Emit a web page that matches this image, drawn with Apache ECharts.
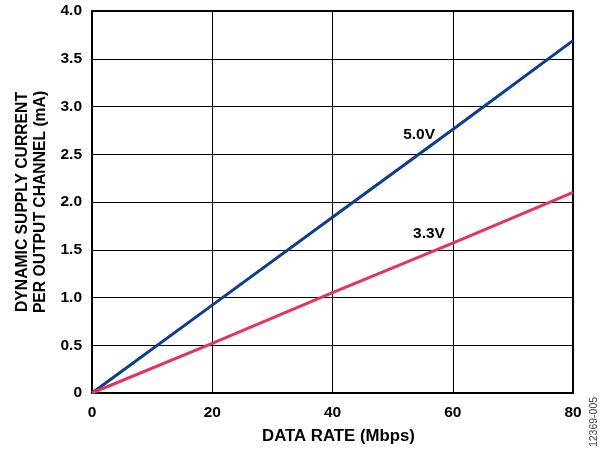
<!DOCTYPE html>
<html><head><meta charset="utf-8">
<script src="https://cdn.jsdelivr.net/npm/echarts@6/dist/echarts.min.js"></script>
<style>html,body{margin:0;padding:0;background:#fff}#c{width:605px;height:454px}</style>
</head><body><div id="c"></div>
<script>
const dataRate = [0, 20, 40, 60, 80];
const v50 = [0, 0.92, 1.84, 2.76, 3.69];
const v33 = [0, 0.52, 1.05, 1.57, 2.10];
const xTicks = [0, 20, 40, 60, 80];
const yTicks = ['0', '0.5', '1.0', '1.5', '2.0', '2.5', '3.0', '3.5', '4.0'];
const seriesNames = ['5.0V', '3.3V'];

const chart = echarts.init(document.getElementById('c'));
const F = 'Liberation Sans, Arial, sans-serif';
chart.setOption({
  animation: false,
  grid: {left: 92, right: 32, top: 11, bottom: 61},
  xAxis: {
    type: 'value', min: 0, max: 80, interval: 20,
    name: 'DATA RATE (Mbps)', nameLocation: 'middle', nameGap: 35,
    nameTextStyle: {fontFamily: F, fontWeight: 'bold', fontSize: 16.8, color: '#000', padding: [0, 0, 0, 12]},
    axisLine: {show: true, lineStyle: {color: '#000', width: 2}},
    axisTick: {show: false},
    axisLabel: {fontFamily: F, fontWeight: 'bold', fontSize: 15.5, color: '#000', margin: 12,
      formatter: v => String(xTicks[xTicks.indexOf(v)] ?? v)},
    splitLine: {show: true, lineStyle: {color: '#000', width: 1}}
  },
  yAxis: {
    type: 'value', min: 0, max: 4, interval: 0.5,
    name: 'DYNAMIC SUPPLY CURRENT\nPER OUTPUT CHANNEL (mA)', nameLocation: 'middle', nameGap: 37,
    nameTextStyle: {fontFamily: F, fontWeight: 'bold', fontSize: 15.7, color: '#000', lineHeight: 18},
    axisLine: {show: true, lineStyle: {color: '#000', width: 2}},
    axisTick: {show: false},
    axisLabel: {fontFamily: F, fontWeight: 'bold', fontSize: 15.5, color: '#000', margin: 10,
      formatter: v => yTicks[Math.round(v * 2)]},
    splitLine: {show: true, lineStyle: {color: '#000', width: 1}}
  },
  graphic: [
    {type: 'rect', shape: {x: 92, y: 11, width: 481, height: 382}, style: {fill: 'none', stroke: '#000', lineWidth: 2}, z: 1},
    {type: 'text', x: 594, y: 422, rotation: Math.PI / 2, style: {text: '12369-005', fontFamily: F, fontSize: 10.5, fill: '#444', align: 'center', verticalAlign: 'middle'}}
  ],
  series: [
    {name: seriesNames[0], type: 'line', data: dataRate.map((x, i) => [x, v50[i]]), showSymbol: false, symbol: 'none',
      lineStyle: {color: '#0f3c8c', width: 3}, z: 5,
      markPoint: {symbol: 'rect', symbolSize: 0, data: [{coord: [54.4, 2.70], label: {show: true, formatter: seriesNames[0], fontFamily: F, fontWeight: 'bold', fontSize: 15.5, color: '#000'}}]}},
    {name: seriesNames[1], type: 'line', data: dataRate.map((x, i) => [x, v33[i]]), showSymbol: false, symbol: 'none',
      lineStyle: {color: '#e5345a', width: 3}, z: 5,
      markPoint: {symbol: 'rect', symbolSize: 0, data: [{coord: [56.05, 1.665], label: {show: true, formatter: seriesNames[1], fontFamily: F, fontWeight: 'bold', fontSize: 15.5, color: '#000'}}]}}
  ]
});
</script></body></html>
